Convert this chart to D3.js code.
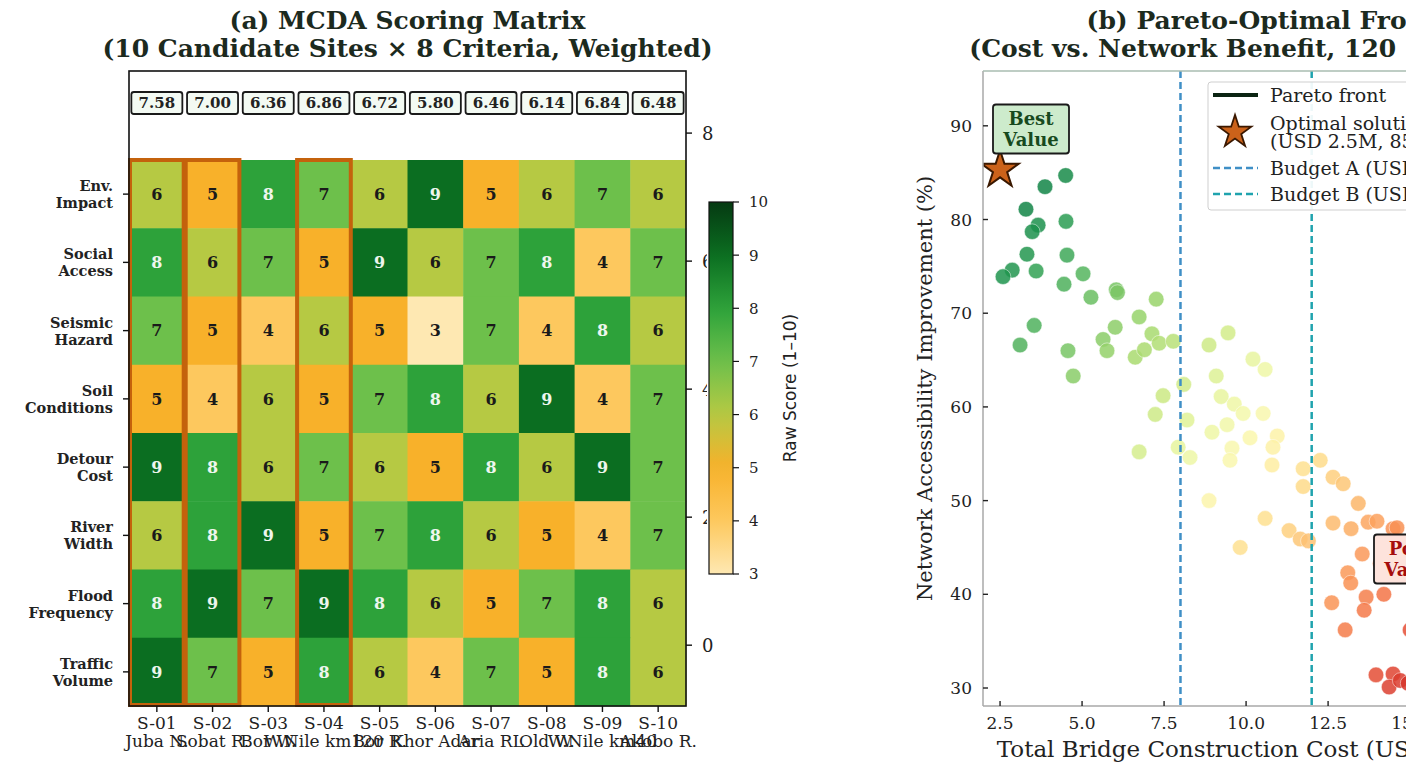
<!DOCTYPE html>
<html>
<head>
<meta charset="utf-8">
<script src="https://cdn.jsdelivr.net/npm/d3@7"></script>
<style>
  body { margin: 0; background: #fff; overflow: hidden; }
  svg { display: block; }
  text { font-family: "DejaVu Serif", serif; fill: #222; }
</style>
</head>
<body>
<svg id="chart" width="1406" height="762"></svg>
<script>
// ---- data: panel (a) ----
const siteIds = ["S-01", "S-02", "S-03", "S-04", "S-05", "S-06", "S-07", "S-08", "S-09", "S-10"];
const siteNames = ["Juba N.", "Sobat R.", "Bor W.", "W.Nile km120", "Bor R.", "Khor Adar", "Aria RL", "Old W.", "W.Nile km40", "Akobo R."];
const criteria = [["Env.", "Impact"], ["Social", "Access"], ["Seismic", "Hazard"], ["Soil", "Conditions"],
                  ["Detour", "Cost"], ["River", "Width"], ["Flood", "Frequency"], ["Traffic", "Volume"]];
const scores = [
  [6, 5, 8, 7, 6, 9, 5, 6, 7, 6],
  [8, 6, 7, 5, 9, 6, 7, 8, 4, 7],
  [7, 5, 4, 6, 5, 3, 7, 4, 8, 6],
  [5, 4, 6, 5, 7, 8, 6, 9, 4, 7],
  [9, 8, 6, 7, 6, 5, 8, 6, 9, 7],
  [6, 8, 9, 5, 7, 8, 6, 5, 4, 7],
  [8, 9, 7, 9, 8, 6, 5, 7, 8, 6],
  [9, 7, 5, 8, 6, 4, 7, 5, 8, 6]
];
const weighted = [7.58, 7.00, 6.36, 6.86, 6.72, 5.80, 6.46, 6.14, 6.84, 6.48];
const topSites = [0, 1, 3];
const cbTicks = [3, 4, 5, 6, 7, 8, 9, 10];
const twinTicks = [0, 2, 4, 6, 8];

// ---- data: panel (b) ----
const cost = [3.87, 4.50, 3.29, 3.66, 3.48, 4.51, 3.32, 4.54, 2.87, 2.59, 3.60, 4.45, 5.03, 5.27, 6.04, 6.08,
  7.26, 6.74, 3.54, 6.01, 5.64, 7.13, 7.35, 7.78, 3.11, 4.57, 5.76, 6.62, 6.90, 4.73, 8.87, 9.45, 10.21,
  10.58, 9.09, 8.10, 7.47, 7.23, 8.20, 9.24, 9.64, 9.91, 10.52, 8.96, 9.42, 10.12, 10.95, 10.82, 9.57,
  6.74, 7.93, 8.29, 9.51, 10.79, 12.26, 11.74, 11.74, 12.65, 12.96, 8.87, 13.42, 10.58, 12.65, 13.20,
  13.72, 13.99, 11.31, 11.65, 11.90, 9.82, 14.48, 13.54, 14.09, 13.10, 13.19, 12.61, 13.66, 14.20, 13.60,
  13.02, 13.96, 14.48, 14.36, 14.70, 14.60, 14.79, 15.00, 14.94];
const benefit = [83.5, 84.7, 81.1, 79.4, 78.7, 79.8, 76.3, 76.2, 74.6, 73.9, 74.5, 73.1, 74.2, 71.7, 72.5, 72.2,
  71.5, 69.6, 68.7, 68.5, 67.2, 67.8, 66.8, 67.0, 66.6, 66.0, 66.0, 65.3, 66.1, 63.3, 66.6, 67.9, 65.1,
  64.0, 63.3, 62.4, 61.2, 59.2, 58.6, 61.1, 60.3, 59.3, 59.3, 57.3, 58.1, 56.7, 56.9, 55.7, 55.6,
  55.2, 55.7, 54.6, 54.3, 53.8, 54.3, 53.4, 51.5, 52.5, 51.8, 50.0, 49.7, 48.1, 47.6, 47.0,
  47.7, 47.8, 46.8, 45.9, 45.7, 45.0, 47.0, 44.3, 43.3, 42.3, 41.2, 39.1, 39.7, 40.0, 38.3,
  36.2, 31.4, 31.5, 30.1, 30.8, 47.1, 44.7, 36.2, 30.5];
const budgets = [{ name: "Budget A (USD 8M)", value: 8, color: "#3f8fc6" },
                 { name: "Budget B (USD 12M)", value: 12, color: "#1fa3ae" }];
const optimal = { cost: 2.5, benefit: 85.3 };
const xTicksB = [2.5, 5.0, 7.5, 10.0, 12.5, 15.0, 17.5];
const yTicksB = [30, 40, 50, 60, 70, 80, 90];

var svg = d3.select("#chart");

function title(g, cx, lines) {
  lines.forEach((t, i) => {
    g.append("text").attr("x", cx).attr("y", 29 + i * 28)
      .attr("text-anchor", "middle").style("font-size", "25px").style("font-weight", "bold")
      .style("fill", "#1c2a1e").text(t);
  });
}

// ================= panel (a) =================
var A = { left: 129, right: 686, top: 71, bottom: 706 };
var xCol = d3.scaleLinear().domain([-0.5, 9.5]).range([A.left, A.right]);
var yRow = d3.scaleLinear().domain([-1.804, 7.5]).range([A.top, A.bottom]);
var yTwin = d3.scaleLinear().domain([-0.95, 8.97]).range([A.bottom, A.top]);

var cmap = d3.scaleLinear()
  .domain([3, 4, 5, 6, 7, 8, 9, 10])
  .range(["#fee8b2", "#fdc85e", "#f8b12a", "#b6c943", "#6dc04b", "#2da23a", "#0b6e21", "#053a12"])
  .interpolate(d3.interpolateRgb);

var pa = svg.append("g");
title(pa, (A.left + A.right) / 2, ["(a) MCDA Scoring Matrix", "(10 Candidate Sites × 8 Criteria, Weighted)"]);

var cells = [];
scores.forEach((row, r) => row.forEach((v, c) => cells.push({ r: r, c: c, v: v })));

pa.selectAll(".cell").data(cells).join("rect")
  .attr("class", "cell")
  .attr("x", d => xCol(d.c - 0.5)).attr("y", d => yRow(d.r - 0.5))
  .attr("width", xCol(1) - xCol(0) + 0.5).attr("height", yRow(1) - yRow(0) + 0.5)
  .attr("fill", d => cmap(d.v));

pa.selectAll(".cellTxt").data(cells).join("text")
  .attr("class", "cellTxt")
  .attr("x", d => xCol(d.c)).attr("y", d => yRow(d.r))
  .attr("dy", "0.36em").attr("text-anchor", "middle")
  .style("font-size", "16px").style("font-weight", "bold")
  .style("fill", d => d.v >= 8 ? "#eef6ee" : "#1a1a1a")
  .text(d => d.v);

// top-3 column outlines
pa.selectAll(".hl").data(topSites).join("rect")
  .attr("class", "hl")
  .attr("x", d => xCol(d - 0.5) + 1).attr("y", yRow(-0.5))
  .attr("width", xCol(1) - xCol(0) - 2).attr("height", yRow(7.5) - yRow(-0.5) - 1)
  .attr("fill", "none").attr("stroke", "#c4620c").attr("stroke-width", 4);

// weighted score boxes
var sb = pa.selectAll(".sbox").data(weighted).join("g").attr("class", "sbox")
  .attr("transform", (d, i) => "translate(" + xCol(i) + "," + yRow(-1.335) + ")");
sb.append("rect").attr("x", -25.5).attr("y", -11).attr("width", 51).attr("height", 22)
  .attr("rx", 2.5).attr("fill", "#f3faf3").attr("stroke", "#1a1a1a").attr("stroke-width", 1.8);
sb.append("text").attr("text-anchor", "middle").attr("dy", "0.36em")
  .style("font-size", "15px").style("font-weight", "bold").text(d => d.toFixed(2));

// frame
pa.append("rect").attr("x", A.left).attr("y", A.top)
  .attr("width", A.right - A.left).attr("height", A.bottom - A.top)
  .attr("fill", "none").attr("stroke", "#111").attr("stroke-width", 1.6);

// left ticks + labels
var yl = pa.selectAll(".ylab").data(criteria).join("g").attr("class", "ylab")
  .attr("transform", (d, i) => "translate(" + A.left + "," + yRow(i) + ")");
yl.append("line").attr("x1", -6).attr("x2", 0).attr("stroke", "#111").attr("stroke-width", 1.4);
yl.append("text").attr("x", -16).attr("y", -3).attr("text-anchor", "end")
  .style("font-size", "14.5px").style("font-weight", "bold").text(d => d[0]);
yl.append("text").attr("x", -16).attr("y", 14).attr("text-anchor", "end")
  .style("font-size", "14.5px").style("font-weight", "bold").text(d => d[1]);

// bottom ticks + labels
var xl = pa.selectAll(".xlab").data(siteIds).join("g").attr("class", "xlab")
  .attr("transform", (d, i) => "translate(" + xCol(i) + "," + A.bottom + ")");
xl.append("line").attr("y1", 0).attr("y2", 6).attr("stroke", "#111").attr("stroke-width", 1.4);
xl.append("text").attr("y", 23).attr("text-anchor", "middle").style("font-size", "17px").text(d => d);
xl.append("text").attr("y", 41).attr("text-anchor", "middle").style("font-size", "17px")
  .text((d, i) => siteNames[i]);

// twin right axis
var tw = pa.selectAll(".twin").data(twinTicks).join("g").attr("class", "twin")
  .attr("transform", d => "translate(" + A.right + "," + yTwin(d) + ")");
tw.append("line").attr("x1", 0).attr("x2", 6).attr("stroke", "#111").attr("stroke-width", 1.4);
tw.append("text").attr("x", 16).attr("dy", "0.36em").style("font-size", "18px").text(d => d);

// colorbar
var cb = { x: 709, w: 24, top: 202, bottom: 574 };
var cbScale = d3.scaleLinear().domain([3, 10]).range([cb.bottom, cb.top]);
var grad = svg.append("defs").append("linearGradient").attr("id", "cbgrad")
  .attr("x1", 0).attr("y1", 1).attr("x2", 0).attr("y2", 0);
d3.range(0, 1.001, 0.05).forEach(t => {
  grad.append("stop").attr("offset", t).attr("stop-color", cmap(3 + 7 * t));
});
pa.append("rect").attr("x", cb.x - 2).attr("y", cb.top - 2).attr("width", cb.w + 4)
  .attr("height", cb.bottom - cb.top + 4).attr("fill", "#fff");
pa.append("rect").attr("x", cb.x).attr("y", cb.top).attr("width", cb.w)
  .attr("height", cb.bottom - cb.top).attr("fill", "url(#cbgrad)")
  .attr("stroke", "#111").attr("stroke-width", 1.2);
var cbt = pa.selectAll(".cbt").data(cbTicks).join("g").attr("class", "cbt")
  .attr("transform", d => "translate(" + (cb.x + cb.w) + "," + cbScale(d) + ")");
cbt.append("line").attr("x1", 0).attr("x2", 6).attr("stroke", "#111").attr("stroke-width", 1.2);
cbt.append("text").attr("x", 16).attr("dy", "0.36em").style("font-size", "15px").text(d => d);
pa.append("text").attr("transform", "translate(796," + ((cb.top + cb.bottom) / 2) + ") rotate(-90)")
  .attr("text-anchor", "middle").style("font-family", "'DejaVu Sans', sans-serif")
  .style("font-size", "17px").text("Raw Score (1–10)");

// ================= panel (b) =================
var B = { left: 983, right: 1540, top: 71, bottom: 706 };
var x = d3.scaleLinear().domain([1.98, 18.96]).range([B.left, B.right]);
var y = d3.scaleLinear().domain([28.08, 95.85]).range([B.bottom, B.top]);
// colour = trade-off score: high benefit and low cost -> green, the reverse -> red
var nBen = d3.scaleLinear().domain([30, 85]);
var nCost = d3.scaleLinear().domain([2.5, 15]);
var ptColor = (c, b) => d3.interpolateRdYlGn(Math.max(0.08, Math.min(0.95, 0.55 + 0.45 * (nBen(b) - nCost(c)))));

var pb = svg.append("g");
pb.append("defs").append("clipPath").attr("id", "clipB").append("rect")
  .attr("x", B.left).attr("y", B.top).attr("width", B.right - B.left).attr("height", B.bottom - B.top);

title(pb, (B.left + B.right) / 2, ["(b) Pareto-Optimal Front", "(Cost vs. Network Benefit, 120 Scenarios)"]);

var plot = pb.append("g").attr("clip-path", "url(#clipB)");

plot.selectAll(".pt").data(cost).join("circle")
  .attr("class", "pt")
  .attr("cx", d => x(d)).attr("cy", (d, i) => y(benefit[i])).attr("r", 7.8)
  .attr("fill", (d, i) => ptColor(d, benefit[i])).attr("fill-opacity", 0.85)
  .attr("stroke", "#fff").attr("stroke-opacity", 0.6).attr("stroke-width", 0.8);

plot.selectAll(".budget").data(budgets).join("line")
  .attr("class", "budget")
  .attr("x1", d => x(d.value)).attr("x2", d => x(d.value))
  .attr("y1", B.top).attr("y2", B.bottom)
  .attr("stroke", d => d.color).attr("stroke-width", 2.5).attr("stroke-dasharray", "7,4");

plot.append("path")
  .attr("transform", "translate(" + x(optimal.cost) + "," + y(optimal.benefit) + ")")
  .attr("d", d3.symbol(d3.symbolStar, 430)())
  .attr("fill", "#cb621a").attr("stroke", "#3a1800").attr("stroke-width", 2);

// spines
pb.append("line").attr("x1", B.left).attr("x2", B.left).attr("y1", B.top).attr("y2", B.bottom)
  .attr("stroke", "#a9a9a9").attr("stroke-width", 1.5);
pb.append("line").attr("x1", B.left).attr("x2", B.right).attr("y1", B.bottom).attr("y2", B.bottom)
  .attr("stroke", "#a9a9a9").attr("stroke-width", 1.5);
pb.append("line").attr("x1", B.left).attr("x2", B.right).attr("y1", B.top).attr("y2", B.top)
  .attr("stroke", "#a8bdb0").attr("stroke-width", 1.5);

// ticks (inward)
var xt = pb.selectAll(".xt").data(xTicksB).join("g").attr("class", "xt")
  .attr("transform", d => "translate(" + x(d) + "," + B.bottom + ")");
xt.append("line").attr("y1", 0).attr("y2", -5).attr("stroke", "#222").attr("stroke-width", 1.4);
xt.append("text").attr("y", 23).attr("text-anchor", "middle").style("font-size", "17px")
  .text(d => d.toFixed(1));
var ytk = pb.selectAll(".yt").data(yTicksB).join("g").attr("class", "yt")
  .attr("transform", d => "translate(" + B.left + "," + y(d) + ")");
ytk.append("line").attr("x1", 0).attr("x2", 5).attr("stroke", "#222").attr("stroke-width", 1.4);
ytk.append("text").attr("x", -11).attr("dy", "0.36em").attr("text-anchor", "end")
  .style("font-size", "17px").text(d => d);

pb.append("text").attr("x", (B.left + B.right) / 2).attr("y", 757).attr("text-anchor", "middle")
  .style("font-size", "23px").text("Total Bridge Construction Cost (USD Million)");
pb.append("text").attr("transform", "translate(932," + ((B.top + B.bottom) / 2) + ") rotate(-90)")
  .attr("text-anchor", "middle").style("font-size", "21px")
  .text("Network Accessibility Improvement (%)");

// annotations
function noteBox(cx, cy, w, h, lines, fill, color) {
  var g = pb.append("g").attr("transform", "translate(" + cx + "," + cy + ")");
  g.append("rect").attr("x", -w / 2).attr("y", -h / 2).attr("width", w).attr("height", h)
    .attr("rx", 3).attr("fill", fill).attr("stroke", "#1a1a1a").attr("stroke-width", 1.8);
  g.selectAll("text").data(lines).join("text")
    .attr("y", (d, i) => (i - (lines.length - 1) / 2) * 21).attr("dy", "0.36em")
    .attr("text-anchor", "middle").style("font-size", "18px").style("font-weight", "bold")
    .style("fill", color).text(d => d);
}
noteBox(1031, 129, 76, 49, ["Best", "Value"], "#cdebcc", "#174a1e");
noteBox(1412, 559, 76, 49, ["Poor", "Value"], "#fde3dc", "#a50d0d");

// legend
var lg = pb.append("g").attr("transform", "translate(1208,82)");
lg.append("rect").attr("width", 300).attr("height", 128).attr("rx", 3)
  .attr("fill", "#fff").attr("fill-opacity", 0.92).attr("stroke", "#cfcfcf");
lg.append("line").attr("x1", 5).attr("x2", 50).attr("y1", 13).attr("y2", 13)
  .attr("stroke", "#0b2412").attr("stroke-width", 4);
lg.append("text").attr("x", 62).attr("y", 13).attr("dy", "0.36em").style("font-size", "19px")
  .text("Pareto front");
lg.append("path").attr("transform", "translate(27,50)")
  .attr("d", d3.symbol(d3.symbolStar, 330)())
  .attr("fill", "#cb621a").attr("stroke", "#3a1800").attr("stroke-width", 1.8);
lg.append("text").attr("x", 62).attr("y", 41).attr("dy", "0.36em").style("font-size", "19px")
  .text("Optimal solution");
lg.append("text").attr("x", 62).attr("y", 59).attr("dy", "0.36em").style("font-size", "19px")
  .text("(USD " + optimal.cost + "M, " + optimal.benefit + "%)");
var lb = lg.selectAll(".lb").data(budgets).join("g").attr("class", "lb")
  .attr("transform", (d, i) => "translate(0," + (86 + i * 26) + ")");
lb.append("line").attr("x1", 5).attr("x2", 50).attr("stroke", d => d.color)
  .attr("stroke-width", 2.5).attr("stroke-dasharray", "7,4");
lb.append("text").attr("x", 62).attr("dy", "0.36em").style("font-size", "19px").text(d => d.name);
</script>
</body>
</html>
